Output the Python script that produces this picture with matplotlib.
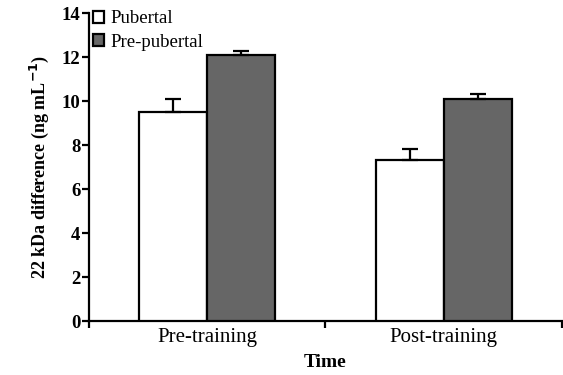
import matplotlib
matplotlib.use("Agg")
import matplotlib.pyplot as plt
import numpy as np

categories = ["Pre-training", "Post-training"]
series_names = ["Pubertal", "Pre-pubertal"]
pubertal = [9.5, 7.3]
pubertal_err = [0.6, 0.5]
prepubertal = [12.1, 10.1]
prepubertal_err = [0.2, 0.2]
yticks = [0, 2, 4, 6, 8, 10, 12, 14]

plt.rcParams['font.family'] = ['Liberation Serif', 'DejaVu Serif']

fig = plt.figure(figsize=(5.63, 3.75), dpi=100)
ax = fig.add_axes([0.158, 0.144, 0.84, 0.821])

x = np.arange(len(categories)) + 0.5
w = 0.288
lw = 1.6
ax.bar(x - w/2, pubertal, w, color="white", edgecolor="black", linewidth=lw,
       label=series_names[0], zorder=3,
       yerr=[[0]*2, pubertal_err], capsize=5.5,
       error_kw=dict(elinewidth=lw, capthick=lw, ecolor="black"))
ax.bar(x + w/2, prepubertal, w, color="#666666", edgecolor="black", linewidth=lw,
       label=series_names[1], zorder=3,
       yerr=[[0]*2, prepubertal_err], capsize=5.5,
       error_kw=dict(elinewidth=lw, capthick=lw, ecolor="black"))

ax.set_xlim(0, 2)
ax.set_ylim(0, 14)
ax.set_yticks(yticks)
ax.set_yticklabels([str(t) for t in yticks], fontsize=13.5, fontweight="bold")
ax.set_xticks([0, 1, 2])
ax.set_xticklabels(["", "", ""])
ax.set_xticks(x, minor=True)
ax.set_xticklabels(categories, minor=True, fontsize=15)
ax.tick_params(axis="x", which="minor", length=0, pad=5)
ax.tick_params(axis="both", which="major", direction="out", length=5, width=lw)
ax.tick_params(axis="y", pad=1)
for s in ["top", "right"]:
    ax.spines[s].set_visible(False)
for s in ["left", "bottom"]:
    ax.spines[s].set_linewidth(lw)

ax.set_ylabel("22 kDa difference (ng mL$^{\\mathbf{-1}}$)", fontsize=13, fontweight="bold", labelpad=8)
ax.set_xlabel("Time", fontsize=14, fontweight="bold", labelpad=5)

leg = ax.legend(loc="upper left", frameon=False, fontsize=13.5, handlelength=0.6,
                handleheight=0.6, handletextpad=0.3, borderaxespad=0.0,
                borderpad=0.1, labelspacing=0.35, bbox_to_anchor=(0.005, 1.015))

fig.savefig("out.png", dpi=100)
